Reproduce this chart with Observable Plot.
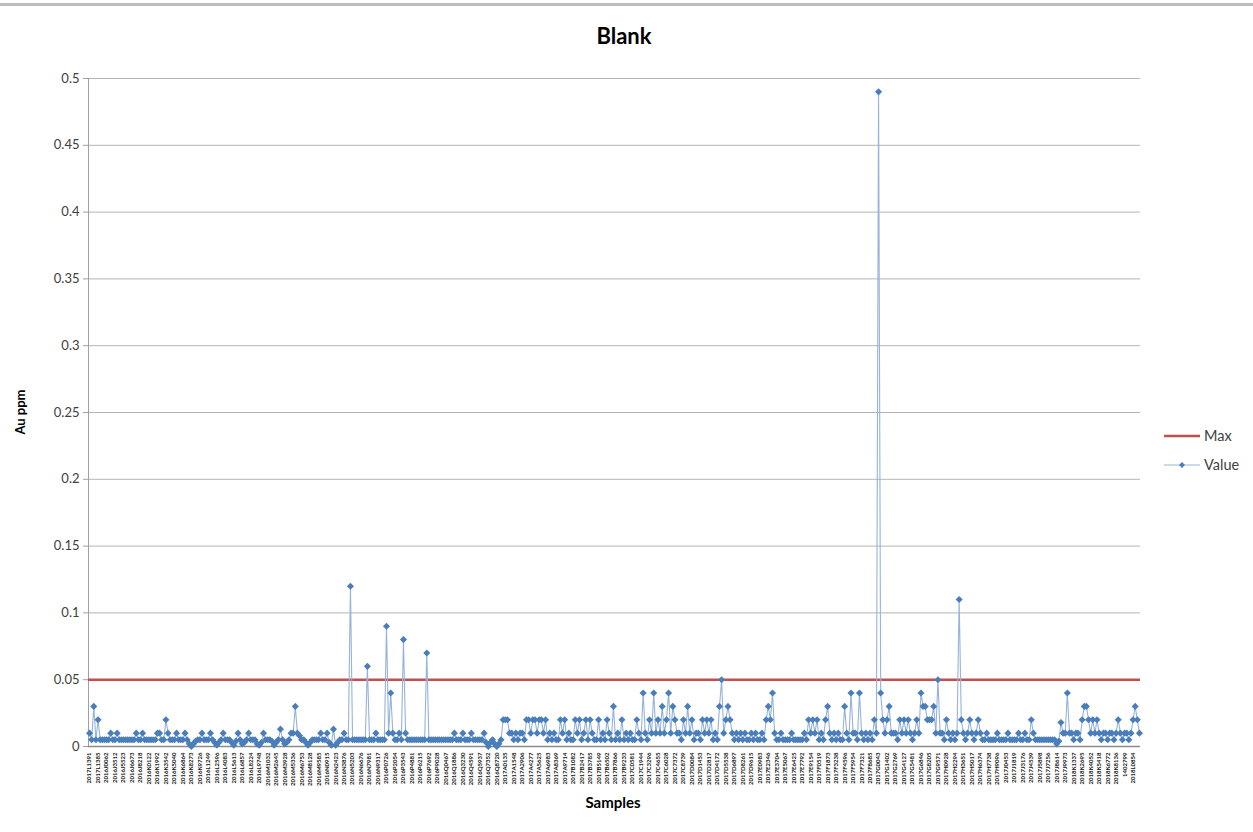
<!DOCTYPE html>
<html>
<head>
<meta charset="utf-8">
<script src="https://cdn.jsdelivr.net/npm/d3@7"></script>
<script src="https://cdn.jsdelivr.net/npm/@observablehq/plot@0.6"></script>
<style>
  body { margin: 0; background: #fff; font-family: Lato, "Open Sans", sans-serif; }
  #chart { position: relative; width: 1253px; height: 832px; overflow: hidden; background: #fff; }
  #chart svg { position: absolute; left: 0; top: 0; }
  #topline { position: absolute; left: 0; top: 3px; width: 1253px; height: 3px; background: #bdbdbd; }
  #title { position: absolute; left: 0; top: 22px; width: 1248px; text-align: center;
           font-size: 22px; font-weight: bold; color: #000; }
  #ylabel { position: absolute; left: 20px; top: 412px; transform: translate(-50%, -50%) rotate(-90deg);
            font-size: 13px; font-weight: bold; color: #000; white-space: nowrap; }
  #xlabel { position: absolute; left: 613px; top: 802px; transform: translate(-50%, -50%);
            font-size: 15px; font-weight: bold; color: #000; }
  #legend { position: absolute; left: 1163px; top: 421px; font-size: 14.5px; color: #404040; }
  #legend .item { display: flex; align-items: center; height: 29px; }
  #legend svg { position: static; margin-right: 3px; }
  g[aria-label="y-axis tick label"] { fill: #404040; }
  g[aria-label="x-axis tick label"] { fill: #111; font-weight: bold; }
</style>
</head>
<body>
<div id="chart">
  <div id="topline"></div>
  <div id="title">Blank</div>
  <div id="ylabel">Au ppm</div>
  <div id="xlabel">Samples</div>
  <div id="legend"></div>
</div>
<script>
// Au assay results (ppm) for the blank samples, in submission order
const values = [
  0.01,0.005,0.03,0.005,0.02,0.005,0.005,0.005,0.005,0.005,0.01,0.005,0.005,0.01,0.005,0.005,
  0.005,0.005,0.005,0.005,0.005,0.005,0.01,0.005,0.005,0.01,0.005,0.005,0.005,0.005,0.005,0.005,
  0.01,0.01,0.005,0.005,0.02,0.01,0.005,0.005,0.005,0.01,0.005,0.005,0.005,0.01,0.005,0.002,
  0,0.002,0.004,0.005,0.005,0.01,0.005,0.005,0.005,0.01,0.005,0.003,0.001,0.003,0.005,0.01,
  0.005,0.005,0.005,0.003,0.001,0.004,0.01,0.005,0.002,0.003,0.005,0.01,0.005,0.005,0.005,0.002,
  0.001,0.003,0.01,0.005,0.005,0.005,0.004,0.001,0.003,0.005,0.013,0.005,0.002,0.003,0.005,0.01,
  0.01,0.03,0.01,0.008,0.005,0.005,0.003,0.001,0.003,0.005,0.005,0.005,0.005,0.01,0.005,0.005,
  0.01,0.003,0.001,0.013,0.001,0.003,0.005,0.005,0.01,0.005,0.005,0.12,0.005,0.005,0.005,0.005,
  0.005,0.005,0.005,0.06,0.005,0.005,0.005,0.01,0.005,0.005,0.005,0.005,0.09,0.01,0.04,0.01,
  0.005,0.005,0.01,0.005,0.08,0.01,0.005,0.005,0.005,0.005,0.005,0.005,0.005,0.005,0.005,0.07,
  0.005,0.005,0.005,0.005,0.005,0.005,0.005,0.005,0.005,0.005,0.005,0.005,0.01,0.005,0.005,0.005,
  0.01,0.005,0.005,0.005,0.01,0.005,0.005,0.005,0.005,0.005,0.01,0.003,0,0.003,0.005,0.002,
  0,0.002,0.005,0.02,0.02,0.02,0.01,0.01,0.005,0.01,0.005,0.01,0.01,0.005,0.02,0.02,
  0.01,0.02,0.02,0.01,0.02,0.02,0.01,0.02,0.005,0.01,0.005,0.01,0.005,0.005,0.02,0.01,
  0.02,0.005,0.01,0.005,0.005,0.02,0.01,0.02,0.005,0.01,0.02,0.005,0.02,0.01,0.005,0.005,
  0.02,0.005,0.01,0.005,0.02,0.01,0.005,0.03,0.005,0.01,0.005,0.02,0.005,0.01,0.005,0.01,
  0.005,0.005,0.02,0.01,0.005,0.04,0.01,0.005,0.02,0.01,0.04,0.01,0.02,0.01,0.03,0.01,
  0.02,0.04,0.01,0.03,0.02,0.01,0.01,0.005,0.02,0.01,0.03,0.01,0.02,0.005,0.01,0.01,
  0.005,0.02,0.01,0.02,0.01,0.02,0.005,0.01,0.005,0.03,0.05,0.01,0.02,0.03,0.02,0.01,
  0.005,0.01,0.005,0.01,0.005,0.01,0.005,0.005,0.01,0.005,0.01,0.005,0.005,0.01,0.005,0.02,
  0.03,0.02,0.04,0.01,0.005,0.005,0.01,0.005,0.005,0.005,0.005,0.01,0.005,0.005,0.005,0.005,
  0.005,0.01,0.005,0.02,0.01,0.02,0.01,0.02,0.005,0.01,0.005,0.02,0.03,0.01,0.005,0.01,
  0.005,0.01,0.005,0.005,0.03,0.01,0.005,0.04,0.01,0.01,0.005,0.04,0.01,0.005,0.01,0.005,
  0.01,0.005,0.02,0.01,0.49,0.04,0.02,0.01,0.02,0.03,0.01,0.01,0.01,0.005,0.02,0.01,
  0.02,0.01,0.02,0.01,0.005,0.01,0.02,0.01,0.04,0.03,0.03,0.02,0.02,0.02,0.03,0.01,
  0.05,0.01,0.01,0.005,0.02,0.01,0.005,0.01,0.005,0.01,0.11,0.02,0.01,0.005,0.01,0.02,
  0.01,0.005,0.01,0.02,0.01,0.005,0.005,0.01,0.005,0.005,0.005,0.005,0.01,0.005,0.005,0.005,
  0.005,0.01,0.005,0.005,0.005,0.005,0.01,0.005,0.005,0.01,0.005,0.005,0.02,0.01,0.005,0.005,
  0.005,0.005,0.005,0.005,0.005,0.005,0.005,0.005,0.002,0.004,0.018,0.01,0.01,0.04,0.01,0.01,
  0.005,0.01,0.01,0.005,0.02,0.03,0.03,0.02,0.01,0.02,0.01,0.02,0.01,0.005,0.01,0.01,
  0.005,0.01,0.01,0.005,0.01,0.02,0.01,0.005,0.01,0.01,0.005,0.01,0.02,0.03,0.02,0.01
];

// Sample numbers printed on the category axis (one for every fourth sample)
const labelEvery = 4;
const tickLabels = [
  "2017L1391","2017L1385","2016J0062","2016J3512","2016J5523","2016J6673","2016J8218","2016K0122","2016K1992","2016K3542",
  "2016K5040","2016K6864","2016K8273","2016K9726","2016L1249","2016L2596","2016L4083","2016L5613","2016L6857","2016L8224",
  "2016L9748","2016M1032","2016M2645","2016M3928","2016M5336","2016M6753","2016M8128","2016M9585","2016N0915","2016N2423",
  "2016N3876","2016N5203","2016N6676","2016N7981","2016N9317","2016P0726","2016P2054","2016P3543","2016P4881","2016P6215",
  "2016P7692","2016P9028","2016Q0467","2016Q1886","2016Q3230","2016Q4591","2016Q5937","2016Q7352","2016Q8720","2017A0135",
  "2017A1548","2017A2906","2017A4277","2017A5625","2017A6983","2017A8369","2017A9714","2017B1082","2017B2417","2017B3785",
  "2017B5149","2017B6502","2017B7866","2017B9233","2017C0581","2017C1944","2017C3296","2017C4655","2017C6028","2017C7372",
  "2017C8739","2017D0084","2017D1453","2017D2817","2017D4172","2017D5538","2017D6897","2017D8261","2017D9615","2017E0983",
  "2017E2346","2017E3704","2017E5067","2017E6425","2017E7792","2017E9154","2017F0519","2017F1873","2017F3238","2017F4596",
  "2017F5954","2017F7321","2017F8685","2017G0043","2017G1402","2017G2769","2017G4127","2017G5481","2017G6846","2017G8205",
  "2017G9571","2017H0928","2017H2294","2017H3651","2017H5017","2017H6374","2017H7738","2017H9096","2017J0453","2017J1819",
  "2017J3176","2017J4539","2017J5898","2017J7256","2017J8614","2017J9973","2018K1337","2018K2695","2018K4052","2018K5418",
  "2018K6772","2018K8136","1402799","2018L0854"
];

// Value axis ticks and the acceptance limit for a blank
const yTicks = [0, 0.05, 0.1, 0.15, 0.2, 0.25, 0.3, 0.35, 0.4, 0.45, 0.5];
const maxLimit = 0.05;

const series = [
  { name: "Max", color: "#C0504D" },
  { name: "Value", color: "#95B3DC", marker: "#4A7EBB" }
];

const points = values.map((v, i) => ({ i, v }));
const xDomain = [-0.5, values.length - 0.5];
const tickIndex = tickLabels.map((_, k) => k * labelEvery);

const chart = Plot.plot({
  width: 1253,
  height: 832,
  marginLeft: 88,
  marginRight: 113,
  marginTop: 78,
  marginBottom: 86,
  style: { fontFamily: "Lato, 'Open Sans', sans-serif", background: "transparent" },
  x: { domain: xDomain },
  y: { domain: [yTicks[0], yTicks[yTicks.length - 1]] },
  marks: [
    Plot.ruleY(yTicks.slice(1), { stroke: "#b4b4b4", strokeWidth: 1 }),
    Plot.ruleX([xDomain[0]], { stroke: "#a0a0a0", strokeWidth: 1 }),
    Plot.ruleY([yTicks[0]], { stroke: "#8a8a8a", strokeWidth: 1.6 }),
    Plot.ruleY([maxLimit], { stroke: series[0].color, strokeWidth: 2.6 }),
    Plot.line(points, { x: "i", y: "v", stroke: series[1].color, strokeWidth: 1.1 }),
    Plot.dot(points, { x: "i", y: "v", symbol: "diamond2", r: 3.2, fill: series[1].marker, stroke: "none" }),
    Plot.axisY({
      ticks: yTicks, tickSize: 5, tickPadding: 4, stroke: "#a0a0a0",
      tickFormat: d => String(d), fontSize: 13, label: null
    }),
    Plot.axisX({
      ticks: tickIndex, tickFormat: i => tickLabels[i / labelEvery],
      tickRotate: -90, tickSize: 0, tickPadding: 6, fontSize: 6, label: null
    })
  ]
});
document.getElementById("chart").appendChild(chart);

// Legend on the right: line swatch for the limit, line + diamond for the values
const legend = d3.select("#legend");
series.forEach(s => {
  const item = legend.append("div").attr("class", "item");
  const sw = item.append("svg").attr("width", 38).attr("height", 12);
  sw.append("line").attr("x1", 1).attr("x2", 37).attr("y1", 6).attr("y2", 6)
    .attr("stroke", s.color).attr("stroke-width", s.marker ? 1 : 2.6);
  if (s.marker) {
    sw.append("path").attr("d", d3.symbol(d3.symbolDiamond2, 22)())
      .attr("transform", "translate(19,6)").attr("fill", s.marker);
  }
  item.append("span").text(s.name);
});
</script>
</body>
</html>
